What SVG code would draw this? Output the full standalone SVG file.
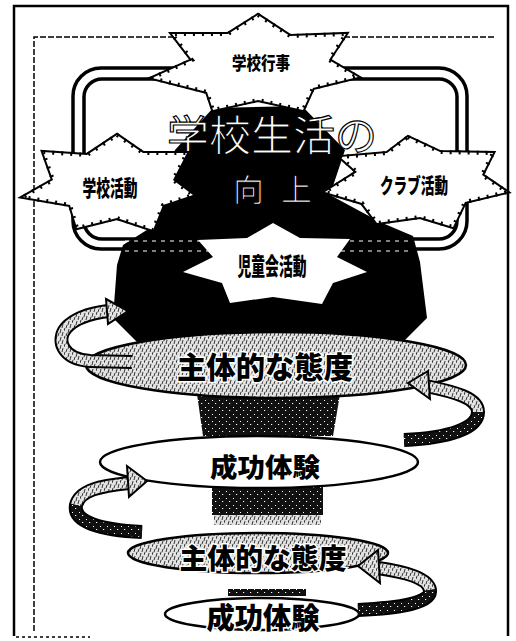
<svg xmlns="http://www.w3.org/2000/svg" width="516" height="641" viewBox="0 0 516 641">
<style>
.frame{fill:none;stroke:#000;stroke-width:2.5}
.inner{fill:none;stroke:#000;stroke-width:1.5;stroke-dasharray:6 2}
.rr{fill:none;stroke:#000;stroke-width:3.5}
.star{fill:#fff;stroke:#000;stroke-width:4;stroke-linejoin:miter}
.sdash{fill:none;stroke:#fff;stroke-width:1;stroke-dasharray:2 7}
.lbl{font-family:"Noto Sans CJK JP","Noto Sans",sans-serif;font-weight:900;fill:#000;text-anchor:middle}
.title{font-family:"Noto Sans CJK JP","Noto Sans",sans-serif;font-weight:400;fill:#fff;stroke:#000;stroke-width:1.2}
.etext{font-family:"Noto Sans CJK JP","Noto Sans",sans-serif;font-weight:900;fill:#000;stroke:#fff;stroke-width:3;paint-order:stroke;text-anchor:middle}
.ell{stroke:#000;stroke-width:2.5}
.band{fill:none;stroke:#000;stroke-width:14;stroke-linecap:butt}
.bandin{fill:none;stroke:url(#tex);stroke-width:10;stroke-linecap:butt}
.bandback{fill:none;stroke:url(#dark);stroke-width:10;stroke-linecap:butt}
.head{fill:url(#tex);stroke:#000;stroke-width:2;stroke-linejoin:miter}
</style>
<defs>
<pattern id="tex" width="8" height="8" patternUnits="userSpaceOnUse">
<rect width="8" height="8" fill="#e2e2e2"/>
<path d="M1 0 L0 3 M5 1 L4 5 M3 5 L2 8 M7 4 L6 8" stroke="#222" stroke-width="0.9"/>
</pattern>
<pattern id="dark" width="7" height="7" patternUnits="userSpaceOnUse">
<rect width="7" height="7" fill="#111"/>
<rect x="2" y="1" width="1" height="1" fill="#fff"/>
<rect x="5" y="4" width="1.2" height="1" fill="#fff"/>
</pattern>
</defs>

<g id="frame">
<path class="frame" d="M14,636 L14,6 L508,6 L508,636"/>
<path class="inner" d="M34,631 L34,37 L494,37"/>
<path d="M16,637 L90,637" stroke="#000" stroke-width="1.5" stroke-dasharray="3 3"/>
</g>

<g id="loop">
<rect class="rr" x="73" y="68" width="394" height="181" rx="28"/>
<rect class="rr" x="84" y="79" width="373" height="160" rx="18"/>
</g>

<g id="silhouette">
<path d="M213,108 L302,106 L345,150 L330,195 L380,222 L413,236 L420,262 L427,318 L400,345 L140,345 L113,318 L117,265 L123,245 L150,228 L165,175 L175,150 Z" fill="#000"/>
<path d="M125,241 L413,241 M125,251 L413,251" stroke="#fff" stroke-width="1.2" stroke-dasharray="4 5"/>
</g>

<g id="title">
<text class="title" x="272" y="151" font-size="42" text-anchor="middle">学校生活の</text>
<text class="title" x="233 281" y="201" font-size="31">向上</text>
</g>

<g id="star-gyoji">
<polygon id="p1" class="star" points="258,15 290,36 346,34 329,60 358,77 313,88 303,110 258,100 213,110 207,92 152,78 192,60 172,34 228,34"/>
<use href="#p1" class="sdash"/>
<text class="lbl" x="261" y="70" font-size="18" textLength="58" lengthAdjust="spacingAndGlyphs">学校行事</text>
</g>

<g id="star-gakkyu">
<polygon id="p2" class="star" points="117,135 143,153 187,153 173,180 193,195 163,205 153,230 117,218 77,228 70,205 23,197 53,180 43,152 87,155"/>
<use href="#p2" class="sdash"/>
<text class="lbl" x="110" y="196" font-size="22" textLength="55" lengthAdjust="spacingAndGlyphs">学校活動</text>
</g>

<g id="star-club">
<polygon id="p3" class="star" points="408,137 440,152 493,153 482,175 507,192 465,202 453,227 420,217 377,223 362,203 325,192 357,172 340,157 387,153"/>
<use href="#p3" class="sdash"/>
<text class="lbl" x="414" y="193" font-size="21" textLength="68" lengthAdjust="spacingAndGlyphs">クラブ活動</text>
</g>

<g id="star-jidokai">
<polygon points="273,223 300,238 350,239 337,257 367,272 333,283 322,304 273,297 230,303 222,283 183,272 213,257 198,240 247,238" fill="#fff"/>
<text class="lbl" x="272" y="275" font-size="24" textLength="69" lengthAdjust="spacingAndGlyphs">児童会活動</text>
</g>

<g id="bands">
<polygon points="197,394 340,394 333,436 203,436" fill="url(#dark)"/>
<rect x="212" y="486" width="111" height="29" fill="url(#dark)"/>
<rect x="214" y="515" width="107" height="10" fill="url(#tex)"/>
<rect x="228" y="589" width="78" height="7" fill="url(#dark)"/>
</g>

<g id="ellipse1">
<ellipse class="ell" cx="276" cy="365" rx="190" ry="33" fill="url(#tex)"/>
<text class="etext" x="265" y="378" font-size="30" textLength="176" lengthAdjust="spacingAndGlyphs">主体的な態度</text>
</g>

<g id="ellipse2">
<ellipse class="ell" cx="259" cy="462" rx="159" ry="26" fill="#fff"/>
<text class="etext" x="265" y="477" font-size="26" textLength="110" lengthAdjust="spacingAndGlyphs">成功体験</text>
</g>

<g id="ellipse3">
<ellipse class="ell" cx="258" cy="553" rx="130" ry="20" fill="url(#tex)"/>
<text class="etext" x="263" y="569" font-size="28" textLength="167" lengthAdjust="spacingAndGlyphs">主体的な態度</text>
</g>

<g id="ellipse4">
<ellipse class="ell" cx="262" cy="614" rx="97" ry="16" fill="#fff"/>
<text class="etext" x="263" y="629" font-size="29" textLength="113" lengthAdjust="spacingAndGlyphs">成功体験</text>
</g>

<g id="connectors">
<path class="band" d="M132,362 L90,361 C62,359 56,340 66,328 C75,318 92,313 108,311"/>
<path class="bandin" d="M132,362 L90,361 C62,359 56,340 66,328 C75,318 92,313 108,311"/>
<polygon class="head" points="106,299 128,311 108,324"/>

<path class="band" d="M426,386 C455,392 478,398 478,412 C478,428 450,438 404,440"/>
<path class="bandin" d="M426,386 C455,392 478,398 478,412"/>
<path class="bandback" d="M478,412 C478,428 450,438 404,440"/>
<polygon class="head" points="428,371 408,383 430,399"/>

<path class="band" d="M129,483 C100,486 80,490 76,505 C73,522 100,530 142,532"/>
<path class="bandin" d="M129,483 C100,486 80,490 76,505"/>
<path class="bandback" d="M76,505 C73,522 100,530 142,532"/>
<polygon class="head" points="127,466 147,481 129,497"/>

<path class="band" d="M378,568 C405,572 428,578 430,590 C432,603 400,608 358,610"/>
<path class="bandin" d="M378,568 C405,572 428,578 430,590"/>
<path class="bandback" d="M430,590 C432,603 400,608 358,610"/>
<polygon class="head" points="378,550 358,566 380,583"/>
</g>
</svg>
